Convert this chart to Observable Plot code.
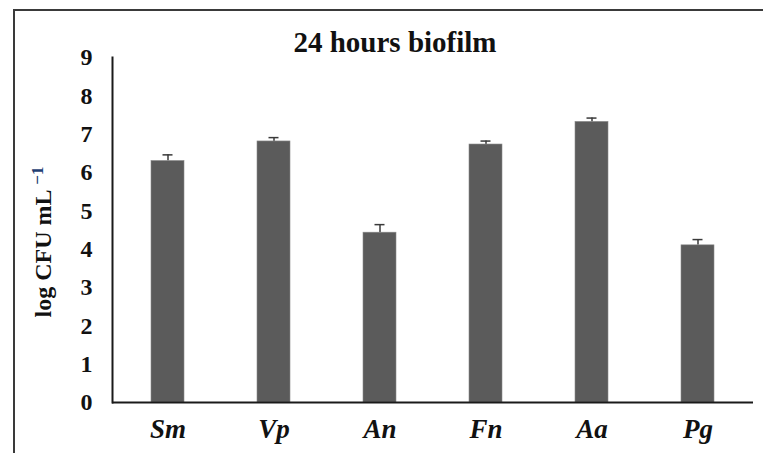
<!DOCTYPE html>
<html>
<head>
<meta charset="utf-8">
<script src="https://cdn.jsdelivr.net/npm/d3@7"></script>
<script src="https://cdn.jsdelivr.net/npm/@observablehq/plot@0.6"></script>
<style>
  html, body { margin: 0; padding: 0; background: #fff; }
  #wrap { position: relative; width: 763px; height: 453px; overflow: hidden; }
  #border { position: absolute; left: 13px; top: 9px; right: -10px; bottom: -10px;
            border-left: 2px solid #3a3a3a; border-top: 2px solid #3a3a3a; pointer-events: none; }
</style>
</head>
<body>
<div id="wrap"><div id="border"></div></div>
<script>
const categories = ["Sm", "Vp", "An", "Fn", "Aa", "Pg"];
const means = [6.30, 6.81, 4.43, 6.73, 7.32, 4.10];
const errors = [0.16, 0.10, 0.21, 0.09, 0.10, 0.15];
const yTicks = [0, 1, 2, 3, 4, 5, 6, 7, 8, 9];
const titleText = "24 hours biofilm";
const yLabelMain = "log CFU mL";
const yLabelSup = "\u22121";

const data = categories.map((c, i) => ({name: c, value: means[i], err: errors[i]}));

const serif = "'Liberation Serif', 'Times New Roman', serif";

const chart = Plot.plot({
  width: 763,
  height: 453,
  marginLeft: 112,
  marginRight: 10,
  marginTop: 57,
  marginBottom: 51,
  style: {fontFamily: serif, background: "transparent", color: "#111"},
  x: {domain: categories, paddingInner: 0.69, paddingOuter: 0.345, label: null},
  y: {domain: [0, 9], label: null},
  marks: [
    Plot.axisY({ticks: yTicks, tickSize: 0, tickPadding: 20, fontSize: 24, fontWeight: "bold", label: null}),
    Plot.axisX({tickSize: 0, tickPadding: 16, fontSize: 27, fontWeight: "bold", fontStyle: "italic", label: null}),
    Plot.ruleX(data, {x: "name", y1: "value", y2: d => d.value + d.err, stroke: "#3a3a3a", strokeWidth: 1.5}),
    Plot.tickY(data, {x: "name", y: d => d.value + d.err, stroke: "#3a3a3a", strokeWidth: 1.5, insetLeft: 11.5, insetRight: 11.5}),
    Plot.barY(data, {x: "name", y: "value", fill: "#5b5b5b", stroke: "#8a8a8a", strokeWidth: 0.6}),
    Plot.ruleY([0], {stroke: "#1a1a1a", strokeWidth: 2}),
    Plot.frame({anchor: "left", stroke: "#1a1a1a", strokeWidth: 2})
  ]
});

const svg = d3.select(chart);
svg.style("position", "absolute").style("left", "0px").style("top", "0px");

svg.append("text")
  .attr("x", 395)
  .attr("y", 52)
  .attr("text-anchor", "middle")
  .attr("font-family", serif)
  .attr("font-weight", "bold")
  .attr("font-size", 29)
  .attr("fill", "#111")
  .text(titleText);

const yl = svg.append("text")
  .attr("transform", "translate(51,242) rotate(-90)")
  .attr("text-anchor", "middle")
  .attr("font-family", serif)
  .attr("font-weight", "bold")
  .attr("font-size", 24)
  .attr("fill", "#111");
yl.append("tspan").text(yLabelMain + " ");
yl.append("tspan").attr("font-size", 17).attr("dy", -8).attr("fill", "#1f3f73").text(yLabelSup);

document.getElementById("wrap").appendChild(chart);
</script>
</body>
</html>
